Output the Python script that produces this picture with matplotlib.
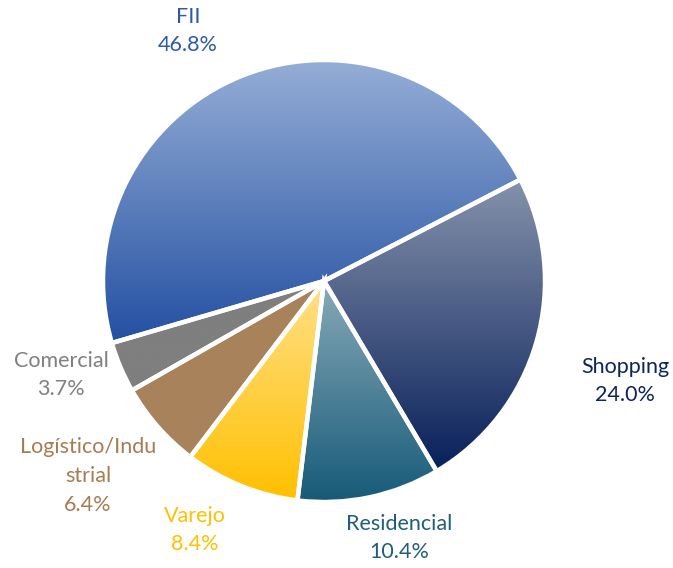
import numpy as np
import matplotlib
matplotlib.use("Agg")
import matplotlib.pyplot as plt
from matplotlib.colors import to_rgb

plt.rcParams['font.family'] = ['Lato', 'DejaVu Sans']

# dados
labels = ['FII', 'Shopping', 'Residencial', 'Varejo', 'Logístico/Indu\nstrial', 'Comercial']
values = [46.8, 24.0, 10.4, 8.4, 6.4, 3.7]
top_colors = ['#95aed6', '#8592ab', '#88aab8', '#ffe08a', '#a8825a', '#7f7f7f']
bottom_colors = ['#2450a2', '#08205a', '#165a78', '#ffc000', '#a8825a', '#7f7f7f']
label_colors = ['#2f5aa5', '#0f2557', '#1f5f7a', '#ffc000', '#a67c52', '#808080']
# posicoes dos rotulos (pixels, origem no topo)
label_pos = [(188, 31), (625, 381), (399, 538), (195, 530), (88, 476), (61, 375)]

W, H = 673, 568
fig = plt.figure(figsize=(W / 100, H / 100), dpi=100)
ax = fig.add_axes([0, 0, 1, 1])

cx, cy, R = 324, H - 281, 221
wedges, _ = ax.pie(values, center=(cx, cy), radius=R, startangle=196.3,
                   counterclock=False, explode=[0.02] * len(values),
                   wedgeprops=dict(edgecolor='white', linewidth=3.2, facecolor='none'),
                   frame=True)

# preenchimento em gradiente vertical para cada fatia
for w, c_top, c_bot in zip(wedges, top_colors, bottom_colors):
    w.set_zorder(3)
    bb = w.get_path().get_extents(w.get_patch_transform())
    t = np.linspace(0, 1, 256)[:, None]
    grad = (1 - t) * np.array(to_rgb(c_top)) + t * np.array(to_rgb(c_bot))
    img = ax.imshow(grad[:, None, :], extent=(bb.x0, bb.x1, bb.y0, bb.y1),
                    origin='upper', interpolation='bilinear', aspect='auto', zorder=2)
    img.set_clip_path(w)

ax.set_xlim(0, W)
ax.set_ylim(0, H)
ax.set_aspect('equal')
ax.axis('off')

for lab, v, col, (px, py) in zip(labels, values, label_colors, label_pos):
    ax.text(px, H - py, f"{lab}\n{v:.1f}%", color=col, fontsize=15.5,
            ha='center', va='center', linespacing=1.55)

fig.savefig('out.png', dpi=100)
